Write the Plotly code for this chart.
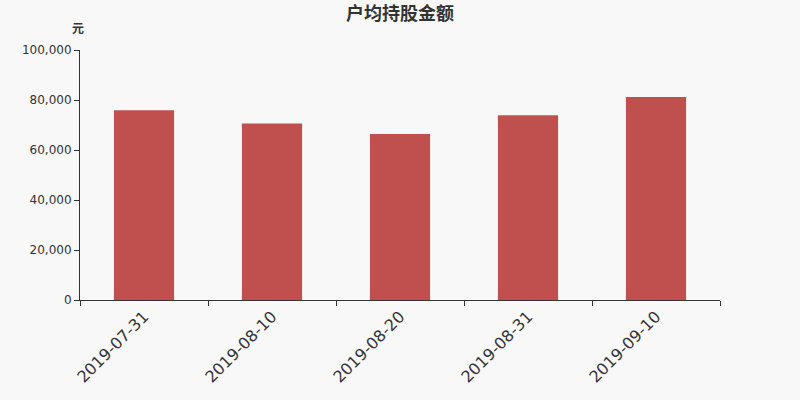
import plotly.graph_objects as go

dates = ["2019-07-31", "2019-08-10", "2019-08-20", "2019-08-31", "2019-09-10"]
amounts = [75900, 70600, 66400, 73900, 81200]
y_ticks = [0, 20000, 40000, 60000, 80000, 100000]

fig = go.Figure(go.Bar(x=dates, y=amounts, marker_color="#c0504d", marker_line_width=0))

fig.update_layout(
    width=800, height=400,
    margin=dict(l=80, r=80, t=50, b=100),
    paper_bgcolor="#f8f8f8", plot_bgcolor="#f8f8f8",
    bargap=0.53,
    showlegend=False,
    font=dict(family="Noto Sans CJK SC, DejaVu Sans", color="#333"),
    title=dict(text="<b>户均持股金额</b>", x=0.5, xanchor="center", y=0.965, yanchor="middle",
               font=dict(size=18, color="#333")),
    annotations=[dict(text="<b>元</b>", xref="paper", yref="paper", x=-0.003, y=1.088,
                      xanchor="center", yanchor="middle", showarrow=False,
                      font=dict(size=12, color="#333"))],
)
fig.update_xaxes(type="category", tickangle=-45, tickson="boundaries", ticks="outside",
                 ticklen=5, tickcolor="#333", showline=True, linecolor="#333",
                 tickfont=dict(size=16, color="#333", family="DejaVu Sans"), showgrid=False)
fig.update_yaxes(range=[0, 100000], tickvals=y_ticks, tickformat=",", ticks="outside",
                 ticklen=5, tickcolor="#333", showline=True, linecolor="#333",
                 showgrid=False, zeroline=False,
                 tickfont=dict(size=12, color="#333", family="DejaVu Sans"))

fig.write_html("out.html", config={"displayModeBar": False},
               post_script="document.body.style.margin='0';")
